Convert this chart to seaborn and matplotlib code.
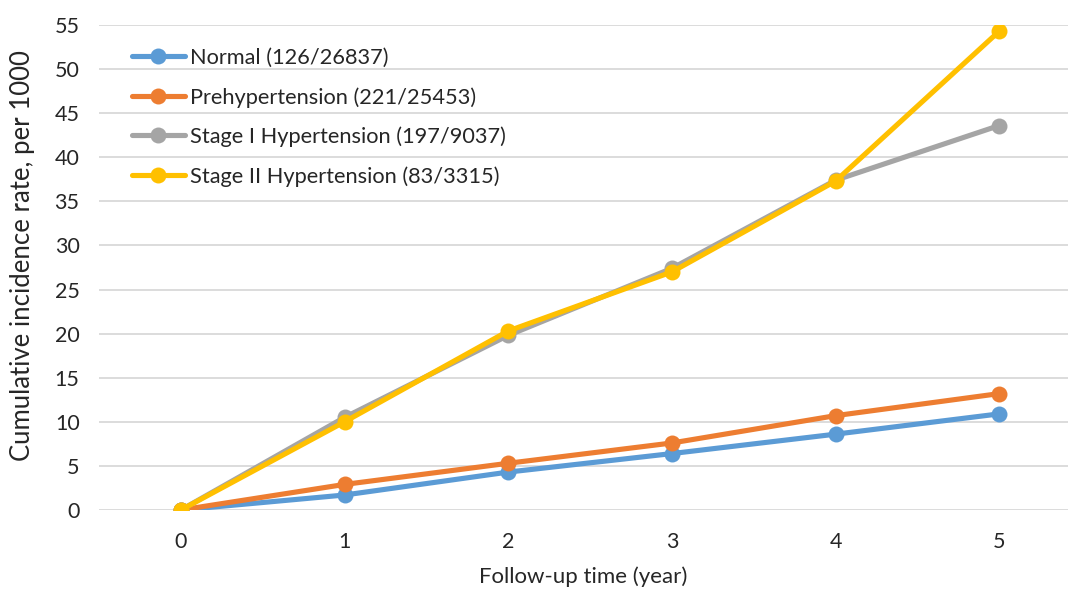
import matplotlib
matplotlib.use("Agg")
import matplotlib.pyplot as plt
import seaborn as sns
import pandas as pd

years = [0, 1, 2, 3, 4, 5]
series_names = [
    "Normal (126/26837)",
    "Prehypertension (221/25453)",
    "Stage I Hypertension (197/9037)",
    "Stage II Hypertension (83/3315)",
]
normal = [0, 1.7, 4.3, 6.4, 8.6, 10.9]
prehypertension = [0, 2.9, 5.3, 7.6, 10.7, 13.2]
stage1 = [0, 10.5, 19.8, 27.4, 37.4, 43.6]
stage2 = [0, 10.0, 20.3, 27.0, 37.3, 54.3]
y_ticks = [0, 5, 10, 15, 20, 25, 30, 35, 40, 45, 50, 55]

colors = ["#5B9BD5", "#ED7D31", "#A5A5A5", "#FFC000"]

rows = []
for name, vals in zip(series_names, [normal, prehypertension, stage1, stage2]):
    for x, v in zip(years, vals):
        rows.append({"year": x, "rate": v, "group": name})
df = pd.DataFrame(rows)

sns.set_theme(style="white")
plt.rcParams["font.family"] = ["Lato", "DejaVu Sans"]

fig = plt.figure(figsize=(10.68, 5.91), dpi=100)
ax = fig.add_axes([99 / 1068, 1 - 510 / 591, 1 - 99 / 1068, (510 - 25) / 591])

sns.lineplot(
    data=df, x="year", y="rate", hue="group", hue_order=series_names,
    palette=colors, marker="o", markersize=11.5, markeredgewidth=0,
    linewidth=3.7, ax=ax, legend=True,
)

ax.set_xlim(-0.5, 5.42)
ax.set_ylim(0, 55)
ax.set_yticks(y_ticks)
ax.set_xticks(years)
ax.set_xticklabels([str(y) for y in years])
ax.yaxis.grid(True, color="#D9D9D9", linewidth=1.3)
ax.xaxis.grid(False)
ax.set_axisbelow(True)
for s in ax.spines.values():
    s.set_visible(False)
ax.tick_params(axis="both", length=0, labelsize=15.5, colors="#262626")
ax.tick_params(axis="y", pad=14)
ax.tick_params(axis="x", pad=16)

ax.set_xlabel("Follow-up time (year)", fontsize=16, color="#262626", labelpad=10)
ax.set_ylabel("Cumulative incidence rate, per 1000", fontsize=18.5,
              color="#262626", labelpad=14)
ax.yaxis.label.set_y(0.525)

handles, labels = ax.get_legend_handles_labels()
leg = ax.legend(
    handles, labels, loc="upper left",
    bbox_to_anchor=(132 / 1068, 1 - 48 / 591), bbox_transform=fig.transFigure,
    frameon=False, fontsize=15.7, handlelength=2.43, handletextpad=0.23,
    labelspacing=0.87, borderpad=0, borderaxespad=0,
)
for t in leg.get_texts():
    t.set_color("#262626")

fig.savefig("out.png", dpi=100)
